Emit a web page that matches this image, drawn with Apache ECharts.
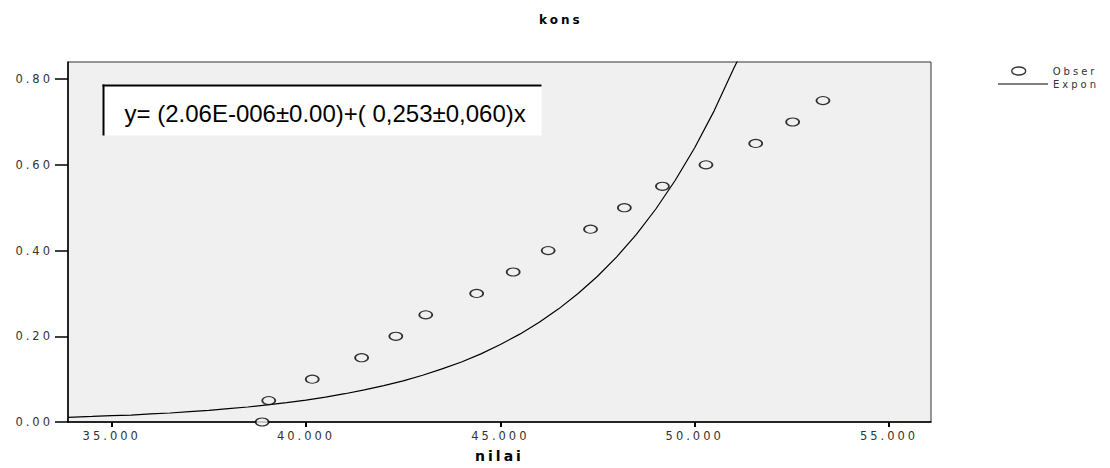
<!DOCTYPE html>
<html>
<head>
<meta charset="utf-8">
<script src="https://cdn.jsdelivr.net/npm/echarts@6/dist/echarts.min.js"></script>
<style>
html, body { margin: 0; padding: 0; background: #fff; }
#kons { width: 1110px; height: 468px; }
/* SPSS-style spaced-out labels */
#kons text[style*="DejaVu"] { letter-spacing: 3px; }
</style>
</head>
<body>
<div id="kons"></div>
<script>
// observed points (nilai, kons)
const obsX = [38.87, 39.04, 40.16, 41.43, 42.31, 43.08, 44.39, 45.33, 46.23, 47.32, 48.19, 49.17, 50.29, 51.57, 52.52, 53.30];
const obsY = [0.00, 0.05, 0.10, 0.15, 0.20, 0.25, 0.30, 0.35, 0.40, 0.45, 0.50, 0.55, 0.60, 0.65, 0.70, 0.75];

// exponential curve
const curveX = [33.88, 34.5, 35, 35.5, 36, 36.5, 37, 37.5, 38, 38.5, 39, 39.5, 40, 40.5, 41, 41.5, 42, 42.5,
    43, 43.5, 44, 44.5, 45, 45.5, 46, 46.5, 47, 47.5, 48, 48.5, 49, 49.5, 50, 50.5, 51, 51.3];
const curveY = [0.011, 0.013, 0.015, 0.016, 0.019, 0.021, 0.024, 0.027, 0.031, 0.035, 0.040, 0.045, 0.051, 0.058,
    0.066, 0.075, 0.085, 0.096, 0.109, 0.124, 0.140, 0.159, 0.181, 0.205, 0.233, 0.264, 0.300, 0.340, 0.386,
    0.438, 0.497, 0.564, 0.640, 0.726, 0.824, 0.880];

// tick labels
const xTicks = [35, 40, 45, 50, 55];
const yTicks = [0, 0.2, 0.4, 0.6, 0.8];

const equation = 'y= (2.06E-006±0.00)+( 0,253±0,060)x';

const chart = echarts.init(document.getElementById('kons'), null, { renderer: 'svg' });

const labelFont = { fontFamily: 'DejaVu Sans', fontSize: 11.5, color: '#333' };
// legend names are cut off at the chart edge in the original
const cutName = name => name.slice(0, 5);

chart.setOption({
    animation: false,
    title: {
        text: 'kons',
        left: 534,
        top: 9,
        textStyle: { fontFamily: 'DejaVu Sans', fontWeight: 'bold', fontSize: 12, color: '#000' }
    },
    legend: [
        {
            data: [{ name: 'Observed', icon: 'path://M0,4A7,4 0 1,0 14,4A7,4 0 1,0 0,4Z' }],
            orient: 'vertical',
            left: 1006,
            top: 61,
            itemWidth: 14,
            itemHeight: 8,
            formatter: cutName,
            itemStyle: { color: '#fff', borderColor: '#000', borderWidth: 1.4 },
            textStyle: { fontFamily: 'DejaVu Sans', fontSize: 10, color: '#333', padding: [0, 0, 0, 22] }
        },
        {
            data: [{ name: 'Exponential', icon: 'rect' }],
            orient: 'vertical',
            left: 993,
            top: 74,
            itemWidth: 50,
            itemHeight: 1.2,
            formatter: cutName,
            itemStyle: { color: '#000' },
            textStyle: { fontFamily: 'DejaVu Sans', fontSize: 10, color: '#333' }
        }
    ],
    grid: {
        left: 68,
        right: 179,
        top: 62,
        bottom: 41,
        show: true,
        backgroundColor: '#f0f0f0',
        borderColor: '#333',
        borderWidth: 1
    },
    xAxis: {
        type: 'value',
        min: 33.875,
        max: 56.08,
        name: 'nilai',
        nameLocation: 'middle',
        nameGap: 27,
        nameTextStyle: { fontFamily: 'DejaVu Sans', fontWeight: 'bold', fontSize: 14, color: '#000' },
        axisLine: { lineStyle: { color: '#000', width: 1.5 } },
        axisTick: { customValues: xTicks, length: 5, lineStyle: { color: '#000', width: 2 } },
        axisLabel: {
            customValues: xTicks,
            margin: 8,
            ...labelFont,
            formatter: v => v.toFixed(3)
        },
        splitLine: { show: false }
    },
    yAxis: {
        type: 'value',
        min: 0,
        max: 0.84,
        axisLine: { show: true, lineStyle: { color: '#000', width: 1.5 } },
        axisTick: { show: true, customValues: yTicks, length: 13, lineStyle: { color: '#000', width: 1.5 } },
        axisLabel: {
            customValues: yTicks,
            margin: 15,
            ...labelFont,
            formatter: v => v.toFixed(2)
        },
        splitLine: { show: false }
    },
    series: [
        {
            name: 'Observed',
            type: 'scatter',
            symbol: 'circle',
            symbolSize: [13, 8],
            itemStyle: { color: '#f0f0f0', borderColor: '#000', borderWidth: 1.4 },
            data: obsX.map((x, i) => [x, obsY[i]]),
            z: 3
        },
        {
            name: 'Exponential',
            type: 'line',
            showSymbol: false,
            symbol: 'none',
            clip: true,
            lineStyle: { color: '#000', width: 1.2 },
            itemStyle: { color: '#000' },
            data: curveX.map((x, i) => [x, curveY[i]]),
            z: 2
        }
    ],
    graphic: [
        {
            type: 'group',
            left: 100,
            top: 82,
            children: [
                { type: 'rect', shape: { x: 0, y: 0, width: 439, height: 51 }, style: { fill: '#fff' } },
                { type: 'line', shape: { x1: 0, y1: 1, x2: 439, y2: 1 }, style: { stroke: '#000', lineWidth: 2 } },
                { type: 'line', shape: { x1: 1, y1: 0, x2: 1, y2: 51 }, style: { stroke: '#000', lineWidth: 2 } },
                {
                    type: 'text',
                    x: 22,
                    y: 29,
                    style: {
                        text: equation,
                        fontFamily: 'Liberation Sans',
                        fontSize: 24,
                        fill: '#000',
                        verticalAlign: 'middle'
                    }
                }
            ]
        }
    ]
});
</script>
</body>
</html>
